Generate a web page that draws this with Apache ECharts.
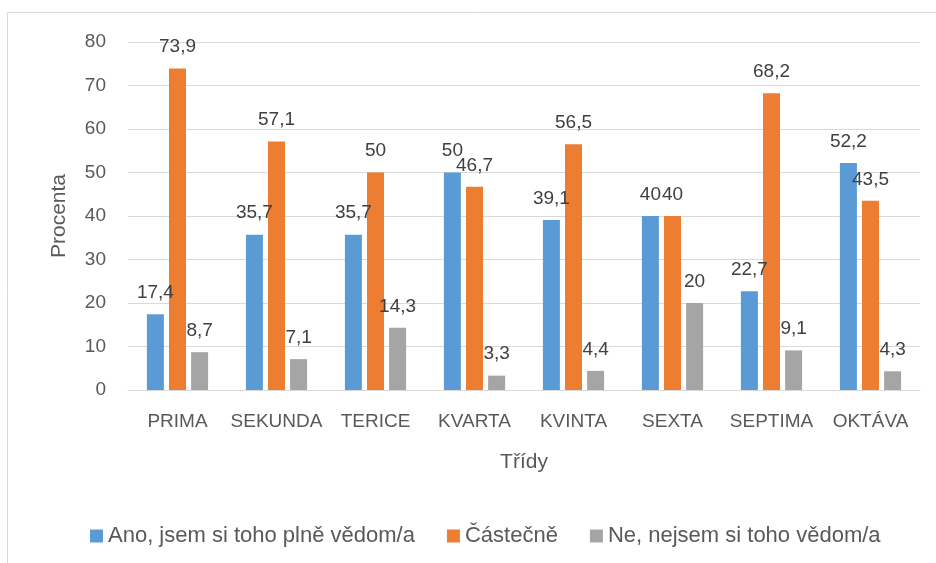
<!DOCTYPE html>
<html>
<head>
<meta charset="utf-8">
<script src="https://cdn.jsdelivr.net/npm/echarts@6/dist/echarts.min.js"></script>
<style>
  html, body { margin: 0; padding: 0; background: #fff; }
  #chart { width: 936px; height: 563px; }
</style>
</head>
<body>
<div id="chart"></div>
<script>
const categories = ["PRIMA", "SEKUNDA", "TERICE", "KVARTA", "KVINTA", "SEXTA", "SEPTIMA", "OKTÁVA"];
const seriesNames = ["Ano, jsem si toho plně vědom/a", "Částečně", "Ne, nejsem si toho vědom/a"];
const ano = [17.4, 35.7, 35.7, 50, 39.1, 40, 22.7, 52.2];
const castecne = [73.9, 57.1, 50, 46.7, 56.5, 40, 68.2, 43.5];
const ne = [8.7, 7.1, 14.3, 3.3, 4.4, 20, 9.1, 4.3];
const colors = ["#5B9BD5", "#ED7D31", "#A5A5A5"];

const font = "Liberation Sans";
const label = {
  show: true,
  position: "top",
  distance: 12,
  fontFamily: font,
  fontSize: 19,
  color: "#404040",
  formatter: (p) => String(p.value).replace(".", ","),
};

const chart = echarts.init(document.getElementById("chart"));
chart.setOption({
  animation: false,
  color: colors,
  textStyle: { fontFamily: font },
  graphic: [
    {
      type: "rect",
      shape: { x: 7.5, y: 12.5, width: 940, height: 560 },
      style: { fill: "none", stroke: "#d9d9d9", lineWidth: 1 },
    },
  ],
  grid: { left: 128, right: 16, top: 42, bottom: 173 },
  legend: {
    data: seriesNames,
    top: 520,
    left: 85,
    icon: "rect",
    itemWidth: 13,
    itemHeight: 13,
    itemGap: 32,
    textStyle: { fontFamily: font, fontSize: 22, color: "#595959" },
  },
  xAxis: {
    type: "category",
    data: categories,
    name: "Třídy",
    nameLocation: "middle",
    nameGap: 62,
    nameTextStyle: { fontFamily: font, fontSize: 21, color: "#595959" },
    axisLine: { lineStyle: { color: "#d9d9d9" } },
    axisTick: { show: false },
    axisLabel: { fontFamily: font, fontSize: 19, color: "#595959", margin: 22, interval: 0 },
  },
  yAxis: {
    type: "value",
    min: 0,
    max: 80,
    interval: 10,
    name: "Procenta",
    nameLocation: "middle",
    nameGap: 58,
    nameTextStyle: { fontFamily: font, fontSize: 21, color: "#595959" },
    axisLine: { show: false },
    axisTick: { show: false },
    axisLabel: { fontFamily: font, fontSize: 19, color: "#595959", margin: 22 },
    splitLine: { lineStyle: { color: "#d9d9d9" } },
  },
  series: [
    { name: seriesNames[0], type: "bar", data: ano, barWidth: 17, barGap: "30%", label },
    { name: seriesNames[1], type: "bar", data: castecne, barWidth: 17, barGap: "30%", label },
    { name: seriesNames[2], type: "bar", data: ne, barWidth: 17, barGap: "30%", label },
  ],
});
</script>
</body>
</html>
